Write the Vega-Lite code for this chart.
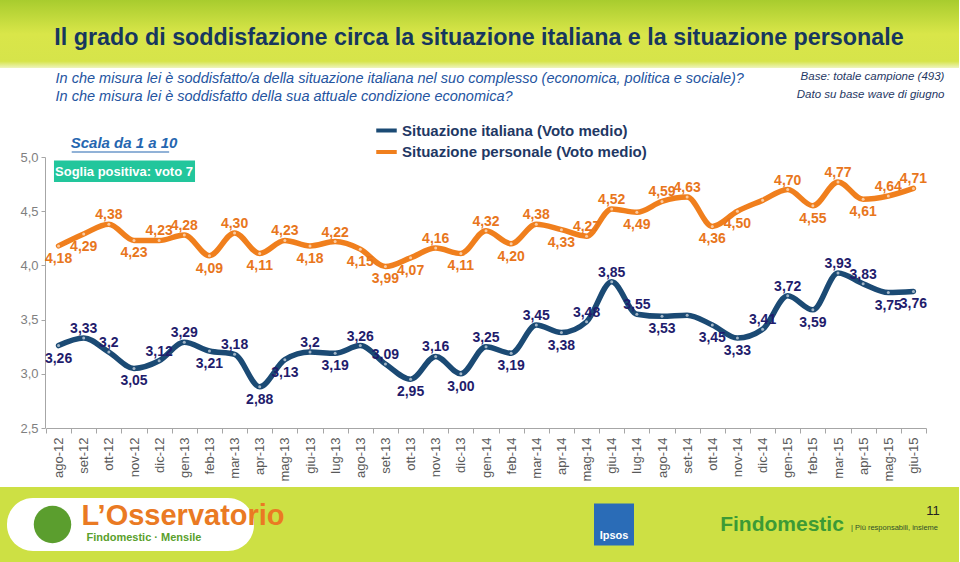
{
  "$schema": "https://vega.github.io/schema/vega-lite/v6.json",
  "background": "#cde044",
  "padding": {"left": -7, "top": 0, "right": 0, "bottom": 0},
  "spacing": 0,
  "bounds": "flush",
  "config": {"view": {"stroke": null}, "font": "Liberation Sans", "axis": {"minExtent": 0}},
  "datasets": {
    "voti": [
      {"mese": "ago-12", "serie": "Situazione italiana (Voto medio)", "voto": 3.26, "etichetta": "3,26"},
      {"mese": "set-12", "serie": "Situazione italiana (Voto medio)", "voto": 3.33, "etichetta": "3,33"},
      {"mese": "ott-12", "serie": "Situazione italiana (Voto medio)", "voto": 3.20, "etichetta": "3,2"},
      {"mese": "nov-12", "serie": "Situazione italiana (Voto medio)", "voto": 3.05, "etichetta": "3,05"},
      {"mese": "dic-12", "serie": "Situazione italiana (Voto medio)", "voto": 3.12, "etichetta": "3,12"},
      {"mese": "gen-13", "serie": "Situazione italiana (Voto medio)", "voto": 3.29, "etichetta": "3,29"},
      {"mese": "feb-13", "serie": "Situazione italiana (Voto medio)", "voto": 3.21, "etichetta": "3,21"},
      {"mese": "mar-13", "serie": "Situazione italiana (Voto medio)", "voto": 3.18, "etichetta": "3,18"},
      {"mese": "apr-13", "serie": "Situazione italiana (Voto medio)", "voto": 2.88, "etichetta": "2,88"},
      {"mese": "mag-13", "serie": "Situazione italiana (Voto medio)", "voto": 3.13, "etichetta": "3,13"},
      {"mese": "giu-13", "serie": "Situazione italiana (Voto medio)", "voto": 3.20, "etichetta": "3,2"},
      {"mese": "lug-13", "serie": "Situazione italiana (Voto medio)", "voto": 3.19, "etichetta": "3,19"},
      {"mese": "ago-13", "serie": "Situazione italiana (Voto medio)", "voto": 3.26, "etichetta": "3,26"},
      {"mese": "set-13", "serie": "Situazione italiana (Voto medio)", "voto": 3.09, "etichetta": "3,09"},
      {"mese": "ott-13", "serie": "Situazione italiana (Voto medio)", "voto": 2.95, "etichetta": "2,95"},
      {"mese": "nov-13", "serie": "Situazione italiana (Voto medio)", "voto": 3.16, "etichetta": "3,16"},
      {"mese": "dic-13", "serie": "Situazione italiana (Voto medio)", "voto": 3.00, "etichetta": "3,00"},
      {"mese": "gen-14", "serie": "Situazione italiana (Voto medio)", "voto": 3.25, "etichetta": "3,25"},
      {"mese": "feb-14", "serie": "Situazione italiana (Voto medio)", "voto": 3.19, "etichetta": "3,19"},
      {"mese": "mar-14", "serie": "Situazione italiana (Voto medio)", "voto": 3.45, "etichetta": "3,45"},
      {"mese": "apr-14", "serie": "Situazione italiana (Voto medio)", "voto": 3.38, "etichetta": "3,38"},
      {"mese": "mag-14", "serie": "Situazione italiana (Voto medio)", "voto": 3.48, "etichetta": "3,48"},
      {"mese": "giu-14", "serie": "Situazione italiana (Voto medio)", "voto": 3.85, "etichetta": "3,85"},
      {"mese": "lug-14", "serie": "Situazione italiana (Voto medio)", "voto": 3.55, "etichetta": "3,55"},
      {"mese": "ago-14", "serie": "Situazione italiana (Voto medio)", "voto": 3.53, "etichetta": "3,53"},
      {"mese": "set-14", "serie": "Situazione italiana (Voto medio)", "voto": 3.54, "etichetta": ""},
      {"mese": "ott-14", "serie": "Situazione italiana (Voto medio)", "voto": 3.45, "etichetta": "3,45"},
      {"mese": "nov-14", "serie": "Situazione italiana (Voto medio)", "voto": 3.33, "etichetta": "3,33"},
      {"mese": "dic-14", "serie": "Situazione italiana (Voto medio)", "voto": 3.41, "etichetta": "3,41"},
      {"mese": "gen-15", "serie": "Situazione italiana (Voto medio)", "voto": 3.72, "etichetta": "3,72"},
      {"mese": "feb-15", "serie": "Situazione italiana (Voto medio)", "voto": 3.59, "etichetta": "3,59"},
      {"mese": "mar-15", "serie": "Situazione italiana (Voto medio)", "voto": 3.93, "etichetta": "3,93"},
      {"mese": "apr-15", "serie": "Situazione italiana (Voto medio)", "voto": 3.83, "etichetta": "3,83"},
      {"mese": "mag-15", "serie": "Situazione italiana (Voto medio)", "voto": 3.75, "etichetta": "3,75"},
      {"mese": "giu-15", "serie": "Situazione italiana (Voto medio)", "voto": 3.76, "etichetta": "3,76"},
      {"mese": "ago-12", "serie": "Situazione personale (Voto medio)", "voto": 4.18, "etichetta": "4,18"},
      {"mese": "set-12", "serie": "Situazione personale (Voto medio)", "voto": 4.29, "etichetta": "4,29"},
      {"mese": "ott-12", "serie": "Situazione personale (Voto medio)", "voto": 4.38, "etichetta": "4,38"},
      {"mese": "nov-12", "serie": "Situazione personale (Voto medio)", "voto": 4.23, "etichetta": "4,23"},
      {"mese": "dic-12", "serie": "Situazione personale (Voto medio)", "voto": 4.23, "etichetta": "4,23"},
      {"mese": "gen-13", "serie": "Situazione personale (Voto medio)", "voto": 4.28, "etichetta": "4,28"},
      {"mese": "feb-13", "serie": "Situazione personale (Voto medio)", "voto": 4.09, "etichetta": "4,09"},
      {"mese": "mar-13", "serie": "Situazione personale (Voto medio)", "voto": 4.30, "etichetta": "4,30"},
      {"mese": "apr-13", "serie": "Situazione personale (Voto medio)", "voto": 4.11, "etichetta": "4,11"},
      {"mese": "mag-13", "serie": "Situazione personale (Voto medio)", "voto": 4.23, "etichetta": "4,23"},
      {"mese": "giu-13", "serie": "Situazione personale (Voto medio)", "voto": 4.18, "etichetta": "4,18"},
      {"mese": "lug-13", "serie": "Situazione personale (Voto medio)", "voto": 4.22, "etichetta": "4,22"},
      {"mese": "ago-13", "serie": "Situazione personale (Voto medio)", "voto": 4.15, "etichetta": "4,15"},
      {"mese": "set-13", "serie": "Situazione personale (Voto medio)", "voto": 3.99, "etichetta": "3,99"},
      {"mese": "ott-13", "serie": "Situazione personale (Voto medio)", "voto": 4.07, "etichetta": "4,07"},
      {"mese": "nov-13", "serie": "Situazione personale (Voto medio)", "voto": 4.16, "etichetta": "4,16"},
      {"mese": "dic-13", "serie": "Situazione personale (Voto medio)", "voto": 4.11, "etichetta": "4,11"},
      {"mese": "gen-14", "serie": "Situazione personale (Voto medio)", "voto": 4.32, "etichetta": "4,32"},
      {"mese": "feb-14", "serie": "Situazione personale (Voto medio)", "voto": 4.20, "etichetta": "4,20"},
      {"mese": "mar-14", "serie": "Situazione personale (Voto medio)", "voto": 4.38, "etichetta": "4,38"},
      {"mese": "apr-14", "serie": "Situazione personale (Voto medio)", "voto": 4.33, "etichetta": "4,33"},
      {"mese": "mag-14", "serie": "Situazione personale (Voto medio)", "voto": 4.27, "etichetta": "4,27"},
      {"mese": "giu-14", "serie": "Situazione personale (Voto medio)", "voto": 4.52, "etichetta": "4,52"},
      {"mese": "lug-14", "serie": "Situazione personale (Voto medio)", "voto": 4.49, "etichetta": "4,49"},
      {"mese": "ago-14", "serie": "Situazione personale (Voto medio)", "voto": 4.59, "etichetta": "4,59"},
      {"mese": "set-14", "serie": "Situazione personale (Voto medio)", "voto": 4.63, "etichetta": "4,63"},
      {"mese": "ott-14", "serie": "Situazione personale (Voto medio)", "voto": 4.36, "etichetta": "4,36"},
      {"mese": "nov-14", "serie": "Situazione personale (Voto medio)", "voto": 4.50, "etichetta": "4,50"},
      {"mese": "dic-14", "serie": "Situazione personale (Voto medio)", "voto": 4.60, "etichetta": ""},
      {"mese": "gen-15", "serie": "Situazione personale (Voto medio)", "voto": 4.70, "etichetta": "4,70"},
      {"mese": "feb-15", "serie": "Situazione personale (Voto medio)", "voto": 4.55, "etichetta": "4,55"},
      {"mese": "mar-15", "serie": "Situazione personale (Voto medio)", "voto": 4.77, "etichetta": "4,77"},
      {"mese": "apr-15", "serie": "Situazione personale (Voto medio)", "voto": 4.61, "etichetta": "4,61"},
      {"mese": "mag-15", "serie": "Situazione personale (Voto medio)", "voto": 4.64, "etichetta": "4,64"},
      {"mese": "giu-15", "serie": "Situazione personale (Voto medio)", "voto": 4.71, "etichetta": "4,71"}
    ]
  },
  "vconcat": [
    {
      "width": 960,
      "height": 68,
      "data": {"values": [{}]},
      "layer": [
        {"mark": {"type": "rect", "color": {"gradient": "linear", "x1": 0, "y1": 0, "x2": 0, "y2": 1, "stops": [{"offset": 0, "color": "#a8cc2e"}, {"offset": 0.5, "color": "#d9e649"}, {"offset": 0.9, "color": "#d6e44a"}, {"offset": 1, "color": "#eef4bd"}]}}},
        {"mark": {"type": "text", "text": "Il grado di soddisfazione circa la situazione italiana e la situazione personale", "font": "Liberation Sans", "fontWeight": "bold", "fontSize": 23.3, "color": "#17375e", "baseline": "middle", "dy": 4}}
      ]
    },
    {
      "width": 960,
      "height": 419,
      "view": {"fill": "#ffffff", "stroke": null},
      "layer": [
        {
          "data": {"name": "voti"},
          "mark": {"type": "line", "interpolate": "monotone", "strokeWidth": 5.5, "strokeCap": "round"},
          "encoding": {
            "x": {
              "field": "mese", "type": "nominal",
              "scale": {"type": "band", "domain": ["ago-12","set-12","ott-12","nov-12","dic-12","gen-13","feb-13","mar-13","apr-13","mag-13","giu-13","lug-13","ago-13","set-13","ott-13","nov-13","dic-13","gen-14","feb-14","mar-14","apr-14","mag-14","giu-14","lug-14","ago-14","set-14","ott-14","nov-14","dic-14","gen-15","feb-15","mar-15","apr-15","mag-15","giu-15"], "range": [47, 927], "paddingInner": 0, "paddingOuter": 0},
              "axis": {"title": null, "offset": -59, "minExtent": 0, "labelAngle": -90, "labelFontSize": 13, "labelColor": "#595959", "labelPadding": 4, "tickBand": "extent", "tickSize": 5, "tickColor": "#a6a6a6", "domainColor": "#a6a6a6", "grid": false}
            },
            "y": {
              "field": "voto", "type": "quantitative",
              "scale": {"domain": [2.5, 5], "range": [360, 89], "zero": false, "nice": false},
              "axis": {"title": null, "offset": -46, "minExtent": 0, "values": [2.5, 3, 3.5, 4, 4.5, 5], "labelExpr": "replace(format(datum.value, '.1f'), '.', ',')", "labelFontSize": 13, "labelColor": "#7f7f7f", "tickSize": 4, "tickColor": "#a6a6a6", "domainColor": "#a6a6a6", "grid": false, "labelPadding": 3}
            },
            "color": {
              "field": "serie", "type": "nominal",
              "scale": {"domain": ["Situazione italiana (Voto medio)", "Situazione personale (Voto medio)"], "range": ["#1b4a74", "#f07f1d"]},
              "legend": {"orient": "none", "legendX": 375, "legendY": 118, "title": null, "padding": 0, "symbolType": "stroke", "symbolStrokeWidth": 4, "symbolSize": 420, "labelFontSize": 15, "labelFontWeight": "bold", "labelColor": "#1f3864", "labelLimit": 400, "rowPadding": 0.5, "labelOffset": 3}
            }
          }
        },
        {
          "data": {"name": "voti"},
          "mark": {"type": "point", "filled": true, "size": 9, "color": "#ffffff", "opacity": 0.6},
          "encoding": {"x": {"field": "mese", "type": "nominal"}, "y": {"field": "voto", "type": "quantitative"}}
        },
        {
          "data": {"name": "voti"},
          "transform": [{"filter": "datum.serie === 'Situazione personale (Voto medio)' && indexof(['ott-12','dic-12','gen-13','mar-13','mag-13','lug-13','nov-13','gen-14','mar-14','mag-14','giu-14','ago-14','set-14','gen-15','mar-15','mag-15','giu-15'], datum.mese) >= 0"}],
          "mark": {"type": "text", "fontSize": 14, "fontWeight": "bold", "color": "#e8761c", "baseline": "alphabetic", "dy": -5},
          "encoding": {"x": {"field": "mese", "type": "nominal"}, "y": {"field": "voto", "type": "quantitative"}, "text": {"field": "etichetta"}}
        },
        {
          "data": {"name": "voti"},
          "transform": [{"filter": "datum.serie === 'Situazione personale (Voto medio)' && indexof(['ott-12','dic-12','gen-13','mar-13','mag-13','lug-13','nov-13','gen-14','mar-14','mag-14','giu-14','ago-14','set-14','gen-15','mar-15','mag-15','giu-15'], datum.mese) < 0"}],
          "mark": {"type": "text", "fontSize": 14, "fontWeight": "bold", "color": "#e8761c", "baseline": "top", "dy": 6},
          "encoding": {"x": {"field": "mese", "type": "nominal"}, "y": {"field": "voto", "type": "quantitative"}, "text": {"field": "etichetta"}}
        },
        {
          "data": {"name": "voti"},
          "transform": [{"filter": "datum.serie === 'Situazione italiana (Voto medio)' && indexof(['set-12','ott-12','dic-12','gen-13','mar-13','giu-13','ago-13','set-13','nov-13','gen-14','mar-14','mag-14','giu-14','lug-14','dic-14','gen-15','mar-15','apr-15'], datum.mese) >= 0"}],
          "mark": {"type": "text", "fontSize": 14, "fontWeight": "bold", "color": "#1f1c6c", "baseline": "alphabetic", "dy": -5},
          "encoding": {"x": {"field": "mese", "type": "nominal"}, "y": {"field": "voto", "type": "quantitative"}, "text": {"field": "etichetta"}}
        },
        {
          "data": {"name": "voti"},
          "transform": [{"filter": "datum.serie === 'Situazione italiana (Voto medio)' && indexof(['set-12','ott-12','dic-12','gen-13','mar-13','giu-13','ago-13','set-13','nov-13','gen-14','mar-14','mag-14','giu-14','lug-14','dic-14','gen-15','mar-15','apr-15'], datum.mese) < 0"}],
          "mark": {"type": "text", "fontSize": 14, "fontWeight": "bold", "color": "#1f1c6c", "baseline": "top", "dy": 6},
          "encoding": {"x": {"field": "mese", "type": "nominal"}, "y": {"field": "voto", "type": "quantitative"}, "text": {"field": "etichetta"}}
        },
        {
          "data": {"values": [{}]},
          "mark": {"type": "rect", "color": "#22c69c", "xOffset": -4.6, "x2Offset": -14.4},
          "encoding": {"x": {"datum": "ago-12", "type": "nominal"}, "x2": {"datum": "feb-13"}, "y": {"datum": 4.968, "type": "quantitative"}, "y2": {"datum": 4.769}}
        },
        {
          "data": {"values": [{}]},
          "mark": {"type": "text", "text": "Soglia positiva: voto 7", "fontSize": 13, "fontWeight": "bold", "color": "#ffffff", "baseline": "middle", "dx": -10},
          "encoding": {"x": {"datum": "nov-12", "type": "nominal"}, "y": {"datum": 4.866, "type": "quantitative"}}
        },
        {
          "data": {"values": [{}]},
          "mark": {"type": "text", "text": "Scala da 1 a 10", "fontSize": 15, "fontWeight": "bold", "fontStyle": "italic", "color": "#2566b0", "baseline": "middle", "align": "left", "dx": -13},
          "encoding": {"x": {"datum": "set-12", "type": "nominal"}, "y": {"datum": 5.129, "type": "quantitative"}}
        },
        {
          "data": {"values": [{}]},
          "mark": {"type": "rule", "color": "#2566b0", "strokeWidth": 1.2, "xOffset": -12, "x2Offset": 10},
          "encoding": {"x": {"datum": "set-12", "type": "nominal"}, "x2": {"datum": "dic-12"}, "y": {"datum": 5.046, "type": "quantitative"}}
        },
        {
          "data": {"values": [{}]},
          "mark": {"type": "text", "text": "In che misura lei è soddisfatto/a della situazione italiana nel suo complesso (economica, politica e sociale)?", "fontSize": 14.5, "fontStyle": "italic", "color": "#24549f", "baseline": "middle", "align": "left", "dx": -3},
          "encoding": {"x": {"datum": "ago-12", "type": "nominal"}, "y": {"datum": 5.72, "type": "quantitative"}}
        },
        {
          "data": {"values": [{}]},
          "mark": {"type": "text", "text": "In che misura lei è soddisfatto della sua attuale condizione economica?", "fontSize": 14.5, "fontStyle": "italic", "color": "#24549f", "baseline": "middle", "align": "left", "dx": -3},
          "encoding": {"x": {"datum": "ago-12", "type": "nominal"}, "y": {"datum": 5.553, "type": "quantitative"}}
        },
        {
          "data": {"values": [{}]},
          "mark": {"type": "text", "text": "Base: totale campione (493)", "fontSize": 11.5, "fontStyle": "italic", "color": "#1f3864", "baseline": "middle", "align": "right", "dx": 31},
          "encoding": {"x": {"datum": "giu-15", "type": "nominal"}, "y": {"datum": 5.738, "type": "quantitative"}}
        },
        {
          "data": {"values": [{}]},
          "mark": {"type": "text", "text": "Dato su base wave di giugno", "fontSize": 11.5, "fontStyle": "italic", "color": "#1f3864", "baseline": "middle", "align": "right", "dx": 31},
          "encoding": {"x": {"datum": "giu-15", "type": "nominal"}, "y": {"datum": 5.572, "type": "quantitative"}}
        }
      ]
    },
    {
      "hconcat": [
        {"width": 8, "height": 75, "data": {"values": []}, "mark": "point"},
        {
          "width": 247, "height": 53,
          "view": {"fill": "#ffffff", "cornerRadius": 26, "stroke": null},
          "data": {"values": [{}]},
          "layer": [
            {"mark": {"type": "point", "filled": true, "size": 1400, "color": "#5b9e2e", "opacity": 1, "xOffset": -78}},
            {"mark": {"type": "text", "text": "L’Osservatorio", "fontSize": 29, "fontWeight": "bold", "color": "#ea7a23", "align": "left", "baseline": "middle", "dx": -49, "dy": -9}},
            {"mark": {"type": "text", "text": "Findomestic · Mensile", "fontSize": 11, "fontWeight": "bold", "color": "#5aa02c", "align": "left", "baseline": "middle", "dx": -44, "dy": 13}}
          ]
        },
        {"width": 340, "height": 75, "data": {"values": []}, "mark": "point"},
        {
          "width": 40, "height": 42,
          "view": {"fill": "#2a6cb7", "stroke": null},
          "data": {"values": [{}]},
          "mark": {"type": "text", "text": "Ipsos", "fontSize": 11, "fontWeight": "bold", "color": "#ffffff", "baseline": "middle", "dy": 11}
        },
        {"width": 85, "height": 75, "data": {"values": []}, "mark": "point"},
        {
          "width": 130, "height": 40,
          "data": {"values": [{}]},
          "mark": {"type": "text", "text": "Findomestic", "fontSize": 21, "fontWeight": "bold", "color": "#3c9a35", "baseline": "middle", "dx": -2}
        },
        {
          "width": 110, "height": 75,
          "data": {"values": [{}]},
          "layer": [
            {"mark": {"type": "text", "text": "| Più responsabili, insieme", "fontSize": 7.5, "color": "#2f4f2a", "align": "left", "baseline": "middle", "dx": -53, "dy": 3}},
            {"mark": {"type": "text", "text": "11", "fontSize": 13, "color": "#222222", "baseline": "middle", "dx": 29, "dy": -14}}
          ]
        }
      ],
      "spacing": 0,
      "bounds": "flush",
      "center": true
    }
  ]
}
